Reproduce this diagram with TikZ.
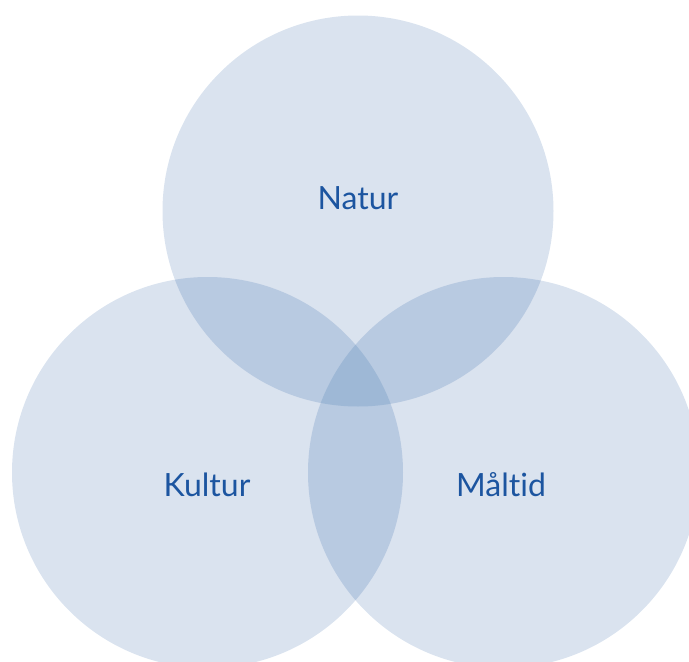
\documentclass[tikz,border=0pt]{standalone}
\usepackage{fontspec}
\setmainfont{Lato}[Ligatures={NoCommon}]
\definecolor{one}{HTML}{DAE3EF}
\definecolor{two}{HTML}{B8CAE1}
\definecolor{three}{HTML}{9EB8D6}
\definecolor{txt}{HTML}{1C55A0}
\tikzset{lbl/.style={text=txt,font=\fontsize{32}{36}\selectfont,inner sep=0pt}}
\begin{document}
\begin{tikzpicture}[x=1pt,y=-1pt]
\useasboundingbox (0,0) rectangle (689,662);
\clip (0,0) rectangle (689,662);
\def\rr{195.5}
\coordinate (ct) at (358,211);
\coordinate (cl) at (207.5,472.5);
\coordinate (cr) at (503.5,472.5);
\fill[one] (ct) circle[radius=\rr];
\fill[one] (cl) circle[radius=\rr];
\fill[one] (cr) circle[radius=\rr];
\begin{scope}\clip (ct) circle[radius=\rr]; \fill[two] (cl) circle[radius=\rr]; \fill[two] (cr) circle[radius=\rr];\end{scope}
\begin{scope}\clip (cl) circle[radius=\rr]; \fill[two] (cr) circle[radius=\rr];\end{scope}
\begin{scope}\clip (ct) circle[radius=\rr]; \clip (cl) circle[radius=\rr]; \fill[three] (cr) circle[radius=\rr];\end{scope}
\node[lbl] (natur) at (358,198) {Natur};
\node[lbl] (kultur) at (207,485) {Kultur};
\node[lbl] (maltid) at (501,485) {Måltid};
\end{tikzpicture}
\end{document}
